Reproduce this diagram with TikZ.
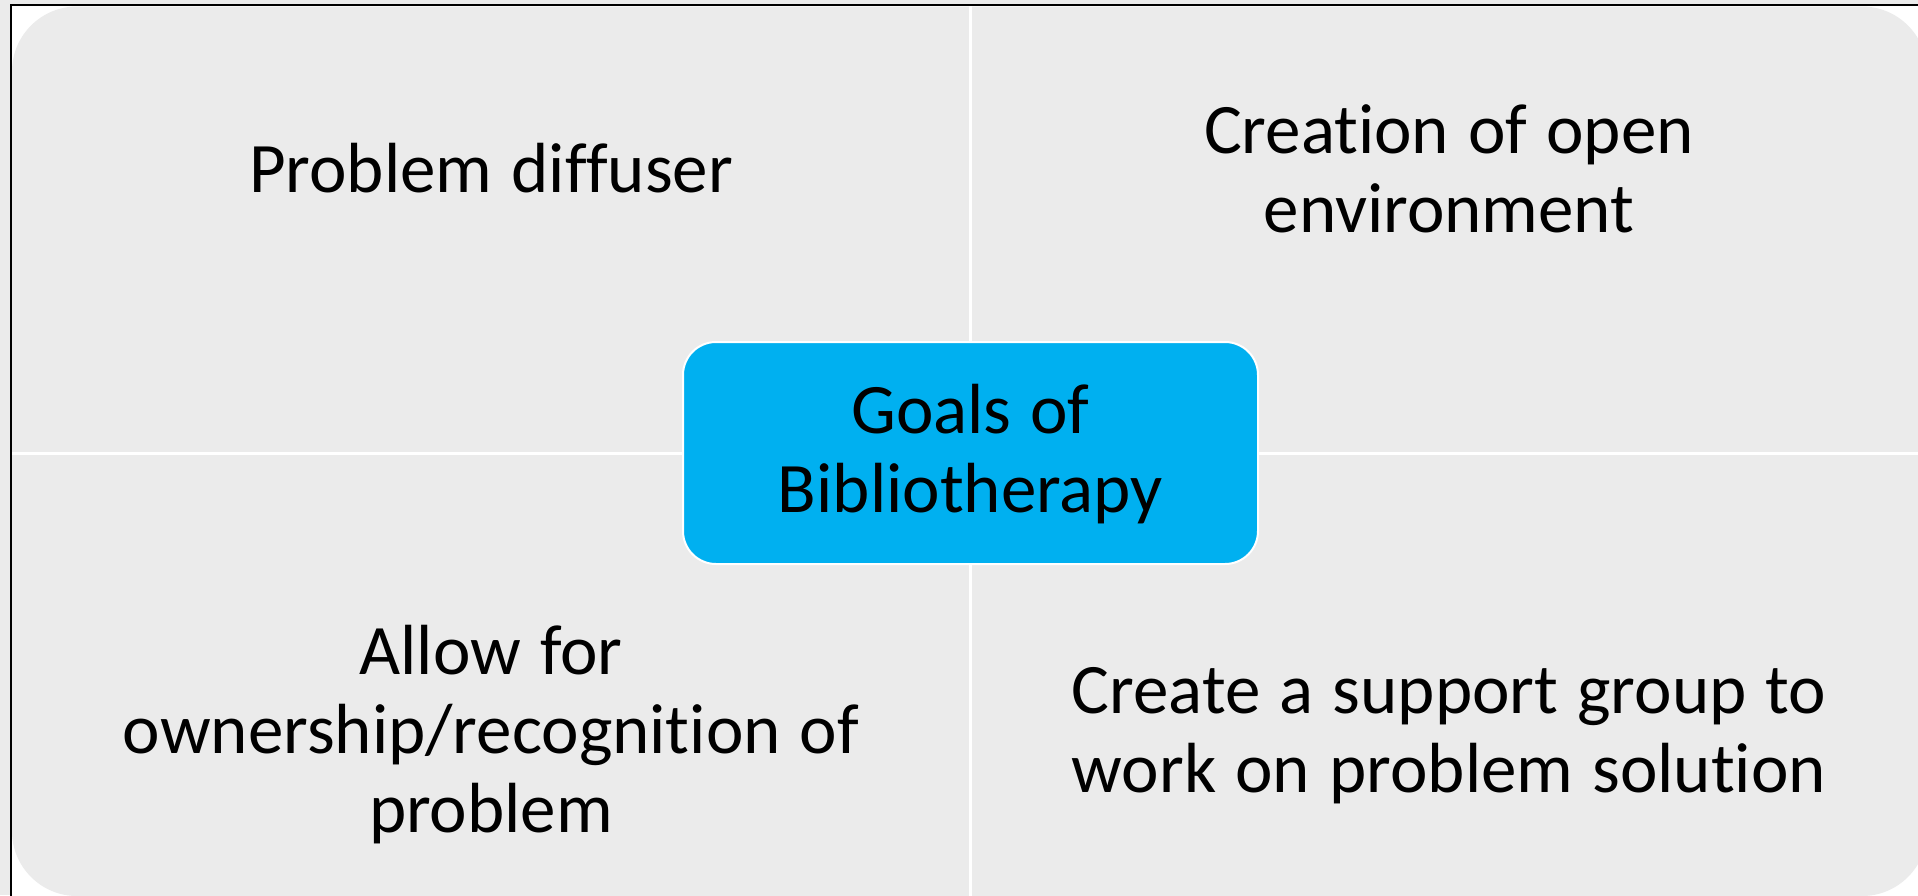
\documentclass[tikz,border=0pt]{standalone}
\usepackage{fontspec}
\newfontfamily\slidefont[Ligatures={NoCommon,NoContextual,NoRequired,NoRare},
  RawFeature={-liga}]{Carlito}
\definecolor{panel}{HTML}{EBEBEB}
\definecolor{hubblue}{HTML}{00B0F0}
\begin{document}
\begin{tikzpicture}[x=0.5pt,y=-0.5pt,
  quadtext/.style={anchor=base, inner sep=0pt, text width=450pt, align=center,
    font=\slidefont\fontsize{35.5pt}{39.5pt}\selectfont, text=black,
    execute at begin node={\spaceskip=0.27em\relax}},
  hubbox/.style={fill=hubblue, draw=white, line width=1pt, rounded corners=16.5pt,
    minimum width=287.5pt, minimum height=111pt, inner sep=0pt},
  divider/.style={white, line width=1.5pt}]
\useasboundingbox (0,0) rectangle (1918,895);
\clip (0,0) rectangle (1918,895);
% page surround, slide area and its frame
\fill[panel] (0,0) rectangle (1918,895);
\fill[white] (11,5) rectangle (1940,910);
\draw[black, line width=1pt] (11,910) -- (11,5) -- (1940,5);
% matrix background with rounded outer corners
\fill[panel, rounded corners=32.5pt] (12,6.5) rectangle (1927,896);
% white gaps between the four quadrants
\draw[divider] (970,6) -- (970,896);
\draw[divider] (12,453) -- (1927,453);
% quadrant texts
\node[quadtext] (tl) at (491,192.7) {Problem diffuser};
\node[quadtext] (tr) at (1449,153.3) {Creation of open\\environment};
\node[quadtext] (bl) at (491,674) {Allow for\\ownership/recognition of\\problem};
\node[quadtext] (br) at (1449,713.3) {Create a support group to\\work on problem solution};
% central hub and its title
\node[hubbox] (hub) at (970.5,453) {};
\node[quadtext, text width=280pt] (hubtitle) at (970.5,433.3) {Goals of\\Bibliotherapy};
\end{tikzpicture}
\end{document}
